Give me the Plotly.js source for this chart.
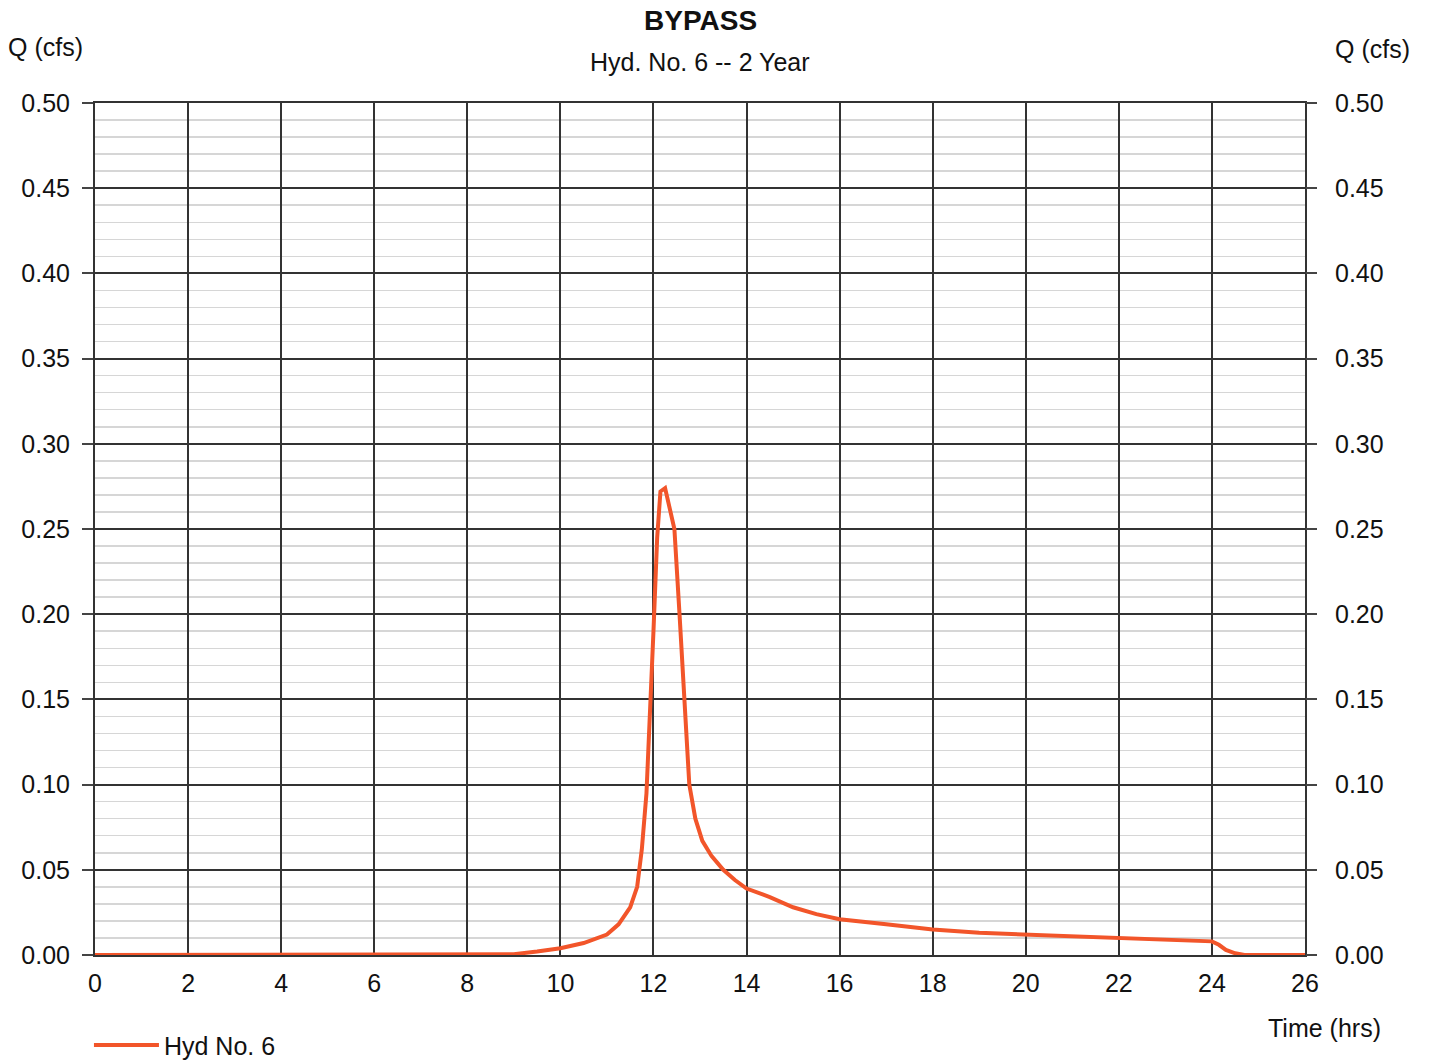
<!DOCTYPE html>
<html>
<head>
<meta charset="utf-8">
<script src="https://cdn.plot.ly/plotly-3.0.1.min.js"></script>
<style>html,body{margin:0;padding:0;background:#fff;}#chart{width:1429px;height:1063px;}</style>
</head>
<body>
<div id="chart"></div>
<script>
const timeHrs = [0, 2, 4, 6, 8, 9, 9.5, 10, 10.5, 11, 11.25, 11.5, 11.65, 11.75, 11.85, 11.93, 12.0, 12.08, 12.15, 12.25, 12.35, 12.45, 12.56, 12.67, 12.77, 12.9, 13.05, 13.25, 13.5, 13.75, 14.0, 14.5, 15.0, 15.5, 16, 17, 18, 19, 20, 21, 22, 23, 24, 24.15, 24.3, 24.5, 24.7, 25, 26];
const flowCfs = [0, 0, 0, 0, 0, 0.0005, 0.002, 0.004, 0.007, 0.012, 0.018, 0.028, 0.04, 0.062, 0.095, 0.14, 0.19, 0.245, 0.272, 0.274, 0.262, 0.25, 0.20, 0.15, 0.10, 0.08, 0.067, 0.058, 0.05, 0.044, 0.039, 0.034, 0.028, 0.024, 0.021, 0.018, 0.015, 0.013, 0.012, 0.011, 0.010, 0.009, 0.008, 0.006, 0.003, 0.001, 0, 0, 0];
const xTicks = [0, 2, 4, 6, 8, 10, 12, 14, 16, 18, 20, 22, 24, 26];
const yTicks = [0, 0.05, 0.10, 0.15, 0.20, 0.25, 0.30, 0.35, 0.40, 0.45, 0.50];
const yTickText = ["0.00", "0.05", "0.10", "0.15", "0.20", "0.25", "0.30", "0.35", "0.40", "0.45", "0.50"];
const seriesName = "Hyd No. 6";

const FONT = "Liberation Sans, Arial, sans-serif";
const lineColor = "#f2552a";
const gridDark = "#333";

const traces = [
  {
    x: timeHrs, y: flowCfs, type: "scatter", mode: "lines", name: seriesName,
    line: {color: lineColor, width: 4}, hoverinfo: "skip"
  },
  {
    // invisible copy on the right-hand axis so that axis is drawn
    x: timeHrs, y: flowCfs, type: "scatter", mode: "lines", yaxis: "y2",
    showlegend: false, hoverinfo: "skip", opacity: 0, line: {width: 0}
  }
];

const yCommon = {
  range: [0, 0.5], tickvals: yTicks, ticktext: yTickText,
  ticks: "outside", ticklen: 11, tickwidth: 2, tickcolor: "#444",
  tickfont: {family: FONT, size: 25, color: "#111"},
  zeroline: false, fixedrange: true
};

const layout = {
  width: 1429, height: 1063,
  margin: {l: 95, r: 124, t: 103, b: 108, autoexpand: false},
  paper_bgcolor: "#fff", plot_bgcolor: "#fff",
  font: {family: FONT, size: 25, color: "#111"},
  showlegend: true,
  legend: {x: -0.005, y: -0.079, xanchor: "left", yanchor: "top", orientation: "h",
           font: {family: FONT, size: 25, color: "#111"}, itemwidth: 65, bgcolor: "rgba(0,0,0,0)"},
  xaxis: {
    range: [0, 26], tickvals: xTicks, ticks: "", showgrid: true, gridcolor: gridDark, gridwidth: 2,
    tickfont: {family: FONT, size: 25, color: "#111"}, zeroline: false,
    showline: true, linecolor: gridDark, linewidth: 2, mirror: true,
    fixedrange: true, ticklabelstandoff: 5
  },
  yaxis: Object.assign({}, yCommon, {
    side: "left", showgrid: true, gridcolor: gridDark, gridwidth: 2,
    showline: true, linecolor: gridDark, linewidth: 2, mirror: true, ticklabelstandoff: 7,
    minor: {dtick: 0.01, tick0: 0, showgrid: true, gridcolor: "#d6d6d6", gridwidth: 1.5, ticks: ""}
  }),
  yaxis2: Object.assign({}, yCommon, {
    side: "right", overlaying: "y", showgrid: false, showline: false, ticklabelstandoff: 13
  }),
  annotations: [
    {text: "<b>BYPASS</b>", xref: "paper", yref: "paper", x: 0.5, y: 1.0974, xanchor: "center", yanchor: "middle", showarrow: false, font: {family: FONT, size: 28, color: "#111"}},
    {text: "Hyd. No. 6 -- 2 Year", xref: "paper", yref: "paper", x: 0.5, y: 1.048, xanchor: "center", yanchor: "middle", showarrow: false, font: {family: FONT, size: 25, color: "#111"}},
    {text: "Q (cfs)", xref: "paper", yref: "paper", x: -0.0405, y: 1.0657, xanchor: "center", yanchor: "middle", showarrow: false, font: {family: FONT, size: 25, color: "#111"}},
    {text: "Q (cfs)", xref: "paper", yref: "paper", x: 1.0554, y: 1.0634, xanchor: "center", yanchor: "middle", showarrow: false, font: {family: FONT, size: 25, color: "#111"}},
    {text: "Time (hrs)", xref: "paper", yref: "paper", x: 1.0165, y: -0.0857, xanchor: "center", yanchor: "middle", showarrow: false, font: {family: FONT, size: 25, color: "#111"}}
  ]
};

Plotly.newPlot("chart", traces, layout, {staticPlot: true, displayModeBar: false});
</script>
</body>
</html>
